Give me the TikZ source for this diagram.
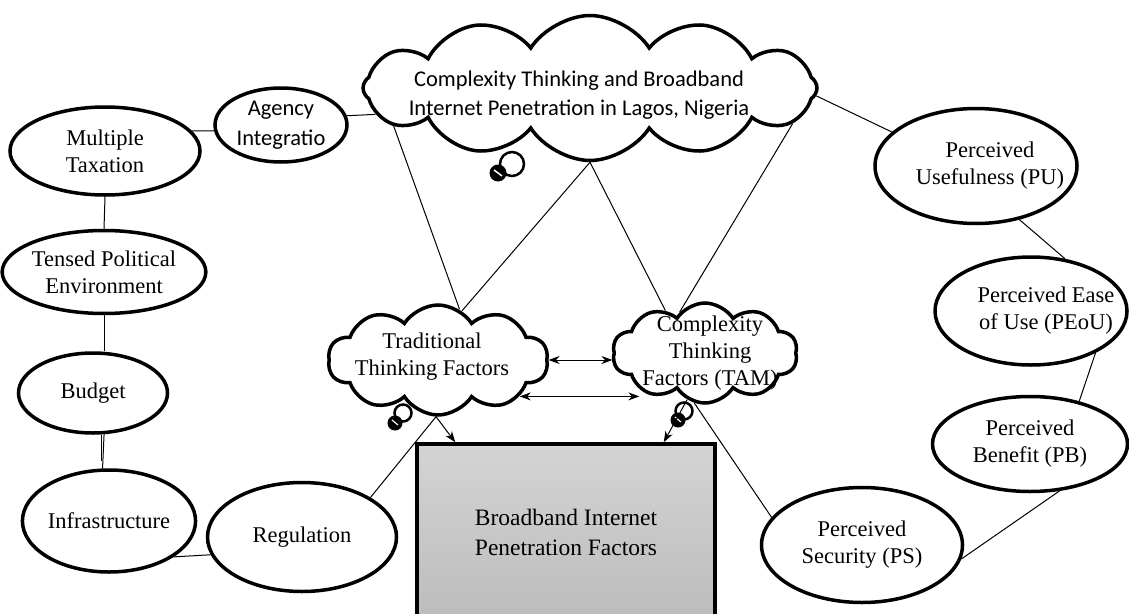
\documentclass[tikz,border=0pt]{standalone}
\usepackage{fontspec}
\setmainfont{Liberation Serif}
\newfontfamily\calibfont{Carlito}
\usetikzlibrary{shapes.geometric,shapes.symbols,arrows.meta}
\definecolor{boxtop}{HTML}{D4D4D4}
\definecolor{boxbot}{HTML}{BCBCBC}
\begin{document}
\begin{tikzpicture}[x=1pt,y=-1pt,
  ell/.style={ellipse,draw,line width=3.5pt,inner sep=0pt,align=center,font=\fontsize{22.5}{27}\selectfont,fill=white},
  cld/.style={cloud,draw,line width=3.5pt,cloud puffs=#1,cloud puff arc=115,cloud ignores aspect,inner sep=0pt,fill=white},
  conn/.style={line width=1pt},
  arr/.style={line width=1pt,-{Stealth[length=11pt,width=8pt]}},
  darr/.style={line width=1pt,{Stealth[length=11pt,width=8pt]}-{Stealth[length=11pt,width=8pt]}},
  txt/.style={inner sep=0pt,align=center,font=\fontsize{22.5}{27}\selectfont},
  ctxt/.style={inner sep=0pt,align=center,font=\calibfont\fontsize{22.5}{29}\selectfont},
  bubble/.style={line width=2.5pt,fill=white}
]
\useasboundingbox (0,0) rectangle (1129,613);

% clouds
\node[cld=12,minimum width=454,minimum height=145] (main) at (590,88) {};
\node[ctxt] (maintxt) at (579,95) {Complexity Thinking and Broadband\\Internet Penetration in Lagos, Nigeria};
\node[cld=10,minimum width=220,minimum height=110] (ttf) at (438,360) {};
\node[txt] (ttftxt) at (432,357) {Traditional\\Thinking Factors};
\node[cld=10,minimum width=185,minimum height=100] (ctf) at (705,353) {};
\node[txt] (ctftxt) at (710,353) {Complexity\\Thinking\\Factors (TAM)};

% box
\node[draw,line width=3.5pt,top color=boxtop,bottom color=boxbot,minimum width=298,minimum height=176,inner sep=0pt,align=center,font=\fontsize{23.5}{30}\selectfont] (box) at (566,532) {Broadband Internet\\Penetration Factors};

% ellipses
\node[ell,minimum width=132,minimum height=74,font=\calibfont\fontsize{22.5}{30}\selectfont] (ai) at (281,125) {Agency\\Integratio};
\node[ell,minimum width=190,minimum height=88] (mt) at (105,151) {Multiple\\Taxation};
\node[ell,minimum width=192,minimum height=83] (tpe) at (104,272) {Tensed Political\\Environment};
\node[ell,minimum width=149,minimum height=80] (bud) at (93,393) {Budget};
\node[ell,minimum width=165,minimum height=102] (inf) at (109,521) {Infrastructure};
\node[ell,minimum width=189,minimum height=109] (reg) at (302,537) {Regulation};
\node[ell,minimum width=202,minimum height=115] (pu) at (976,166) {};
\node[txt] (putxt) at (990,166) {Perceived\\Usefulness (PU)};
\node[ell,minimum width=192,minimum height=108] (peou) at (1031,311) {};
\node[txt] (peoutxt) at (1046,311) {Perceived Ease\\of Use (PEoU)};
\node[ell,minimum width=195,minimum height=95] (pb) at (1030,444) {Perceived\\Benefit (PB)};
\node[ell,minimum width=201,minimum height=115] (ps) at (862,545) {Perceived\\Security (PS)};

% thought bubbles
\draw[bubble] (512,164) circle (12);
\fill (498,173) circle (8.5);
\draw[white,line width=1.5pt] (494,170) -- (502,176);
\draw[bubble] (403,413) circle (8.5);
\fill (395,423) circle (7.5);
\draw[white,line width=1.2pt] (392,420) -- (398,425);
\draw[bubble] (684,411) circle (8.5);
\fill (678,420) circle (7.5);
\draw[white,line width=1.2pt] (675,417) -- (681,422);

% connectors
\draw[conn] (mt.13) -- (ai.185);
\draw[conn] (ai.8) -- (main.187);
\draw[conn] (mt.south) -- (tpe.north);
\draw[conn] (tpe.south) -- (bud.north -| tpe.south);
\draw[conn] (bud.-75) -- (inf.97);
\draw[conn] (bud.-79) -- ++(0,26);
\draw[conn] (inf.-29) -- (reg.191);
\draw[conn] (reg.30) -- (ttf.-92);
\draw[arr] (ttf.-92) -- ([xshift=40pt]box.north west);
\draw[arr] (ctf.-111) -- ([xshift=-53pt]box.north east);
\draw[darr] (ttf.east) -- (ttf.east -| ctf.west);
\draw[darr] (ttf.-24) -- (ttf.-24 -| ctf.209);
\draw[conn] (ctf.-102) -- (ps.163);
\draw[conn] (ps.-8) -- (pb.-58);
\draw[conn] (pb.41) -- (peou.-33);
\draw[conn] (peou.57) -- (pu.-51);
\draw[conn] (main.-2) -- (pu.158);
\draw[conn] (main.191) -- (ttf.67);
\draw[conn] (main.-90) -- (ttf.64);
\draw[conn] (main.-90) -- (ctf.133);
\draw[conn] (main.-10) -- (ctf.122);
\end{tikzpicture}
\end{document}
